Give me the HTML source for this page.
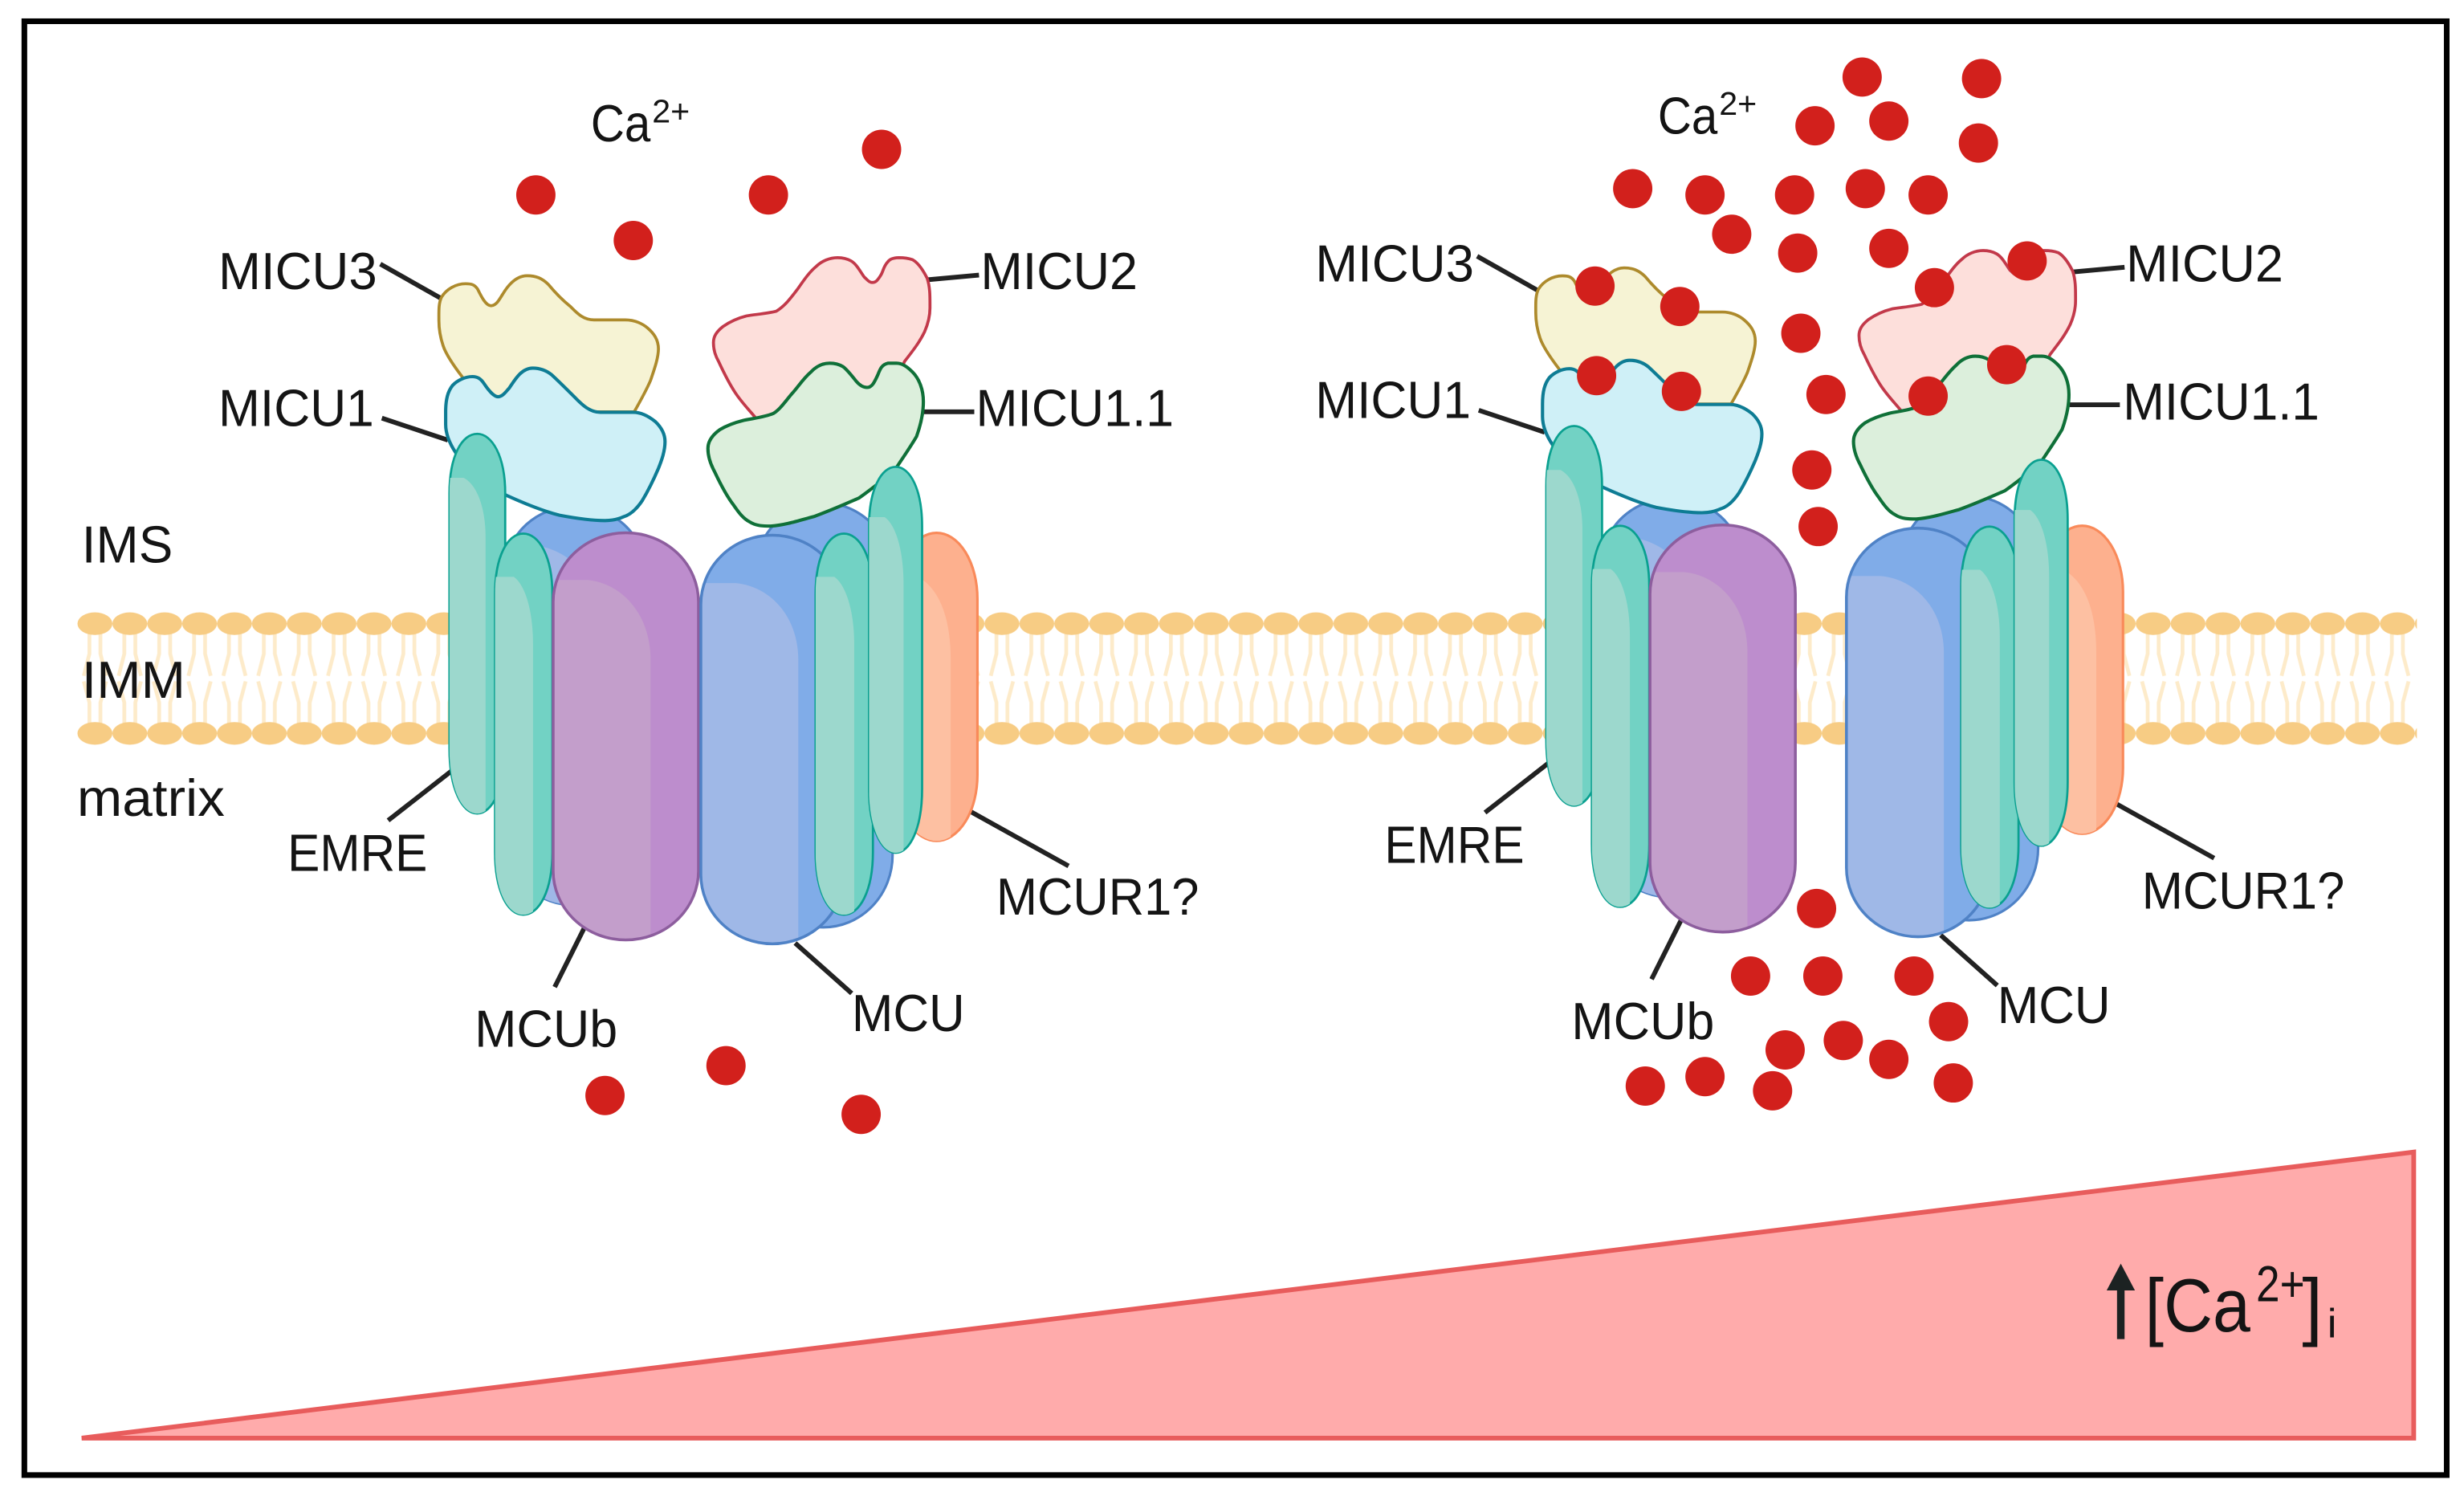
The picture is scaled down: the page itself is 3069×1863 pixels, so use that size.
<!DOCTYPE html>
<html><head><meta charset="utf-8"><style>
html,body{margin:0;padding:0;background:#fff;width:3069px;height:1863px;overflow:hidden}
svg{display:block}
text{font-family:"Liberation Sans",sans-serif;fill:#141414}
</style></head><body>
<svg xmlns="http://www.w3.org/2000/svg" width="3069" height="1863" viewBox="0 0 1568 951.8">
<defs>
<pattern id="lip" patternUnits="userSpaceOnUse" x="49.3" y="388" width="22.2" height="88">
<path d="M7.6,14 L7.6,28 L4,42 M14.6,14 L14.6,28 L18.2,42 M4,45.5 L7.6,59 L7.6,73 M18.2,45.5 L14.6,59 L14.6,73" fill="none" stroke="#fdebca" stroke-width="2.4"/>
<ellipse cx="11.1" cy="8.8" rx="11.1" ry="7.2" fill="#f7cc84"/>
<ellipse cx="11.1" cy="78.6" rx="11.1" ry="7.2" fill="#f7cc84"/>
</pattern>
<clipPath id="cE1"><path d="M286,314 C286,290 294,276 303.7,276 C313,276 321.5,290 321.5,314 L321.5,476 C321.5,502 313,517.6 303.7,517.6 C294,517.6 286,502 286,476 Z"/></clipPath>
<clipPath id="cE2"><path d="M315,378 C315,354 323,339.5 333,339.5 C343,339.5 351.5,354 351.5,378 L351.5,542 C351.5,567 343,582 333,582 C323,582 315,567 315,542Z"/></clipPath>
<clipPath id="cE3"><path d="M519,378 C519,354 527,339.5 537,339.5 C547,339.5 555.5,354 555.5,378 L555.5,542 C555.5,567 547,582 537,582 C527,582 519,567 519,542Z"/></clipPath>
<clipPath id="cE4"><path d="M553,335 C553,311 561,297 570,297 C579,297 586.8,311 586.8,335 L586.8,502 C586.8,527 579,542.6 570,542.6 C561,542.6 553,527 553,502Z"/></clipPath>
<clipPath id="cP"><rect x="352" y="339" width="92.5" height="259" rx="46" ry="44"/></clipPath>
<clipPath id="cB"><rect x="446" y="340.5" width="91" height="260" rx="45.5" ry="44"/></clipPath>
<clipPath id="cO"><rect x="570" y="339" width="52" height="196" rx="26" ry="42"/></clipPath>
<clipPath id="cBL"><rect x="322" y="322" width="88" height="254" rx="44" ry="40"/></clipPath>

<g id="halfA">
<rect x="322" y="322" width="88" height="254" rx="44" ry="40" fill="#80ace8" stroke="#4f82c6" stroke-width="1.6"/>
<path clip-path="url(#cBL)" d="M322,345 L346,348 C358,351 370,360 378,372 L385,580 L322,580Z" fill="#9fb8e7"/>
<path d="M281,189 C284,184 290,180.5 296.3,180.5 C300,180.5 302,181 304,184 C306,188 309,194.5 312.5,194.5 C316,194.5 318,190 320,187 C323,182 328,175.4 335.5,175.4 C341,175.4 345,177 349,181 C354,187 358,191 363,195 C367,199 371,203.5 378,203.5 L398,203.5 C404,203.5 409,206 412,208.6 C416,212 419,216 419,222 C419,228 416,236 414,242 C411,249 407,256 403.6,262 L310,262 L293.8,239.3 C289,233 284,226 282,220 C280,214 279.3,209 279.3,204 C279.3,198 279,193 281,189Z" fill="#f6f3d4" stroke="#ad8a2c" stroke-width="1.9"/>
<path d="M283.6,262 C283.6,254 285,249 288,245.2 C291,242 296,239.6 300.6,239.6 C304,239.6 306,241 308,244 C310,247 314,252.4 316.8,252.4 C320,252.4 322,249 324,247 C328,241 332,234.2 339,234.2 C344,234.2 348,236 351,238.4 C356,243 361,248 366,253 C370,257 375,262.3 382,262.3 L403,262.3 C408,262.3 413,265 417,268.2 C421,272 423.2,276 423.2,281 C423.2,287 421,293 419,298 C416,305 412,313 408.7,318.5 C405,324 401,327.5 397,328.7 C392,331 388,331.2 385,331.2 C375,331.2 365,329.5 356,327.8 C345,325 333,320 322,315 C310,308 298,298 290,288 C286,282 283.6,276 283.6,270 Z" fill="#cff0f7" stroke="#0e7c94" stroke-width="2.1"/>
<path d="M286,314 C286,290 294,276 303.7,276 C313,276 321.5,290 321.5,314 L321.5,476 C321.5,502 313,517.6 303.7,517.6 C294,517.6 286,502 286,476 Z" fill="#72d2c4" stroke="#0aa090" stroke-width="1.4"/>
<path clip-path="url(#cE1)" d="M284,304 L295,304 C303,308 309,322 309,342 L309,520 L284,520Z" fill="#9cd8cd"/>
<path d="M315,378 C315,354 323,339.5 333,339.5 C343,339.5 351.5,354 351.5,378 L351.5,542 C351.5,567 343,582 333,582 C323,582 315,567 315,542Z" fill="#72d2c4" stroke="#0aa090" stroke-width="1.4"/>
<path clip-path="url(#cE2)" d="M312,367 L327,367 C334,372 339.2,388 339.2,410 L339.2,585 L312,585Z" fill="#9cd8cd"/>
<rect x="352" y="339" width="92.5" height="259" rx="46" ry="44" fill="#bd8dcd"/>
<path clip-path="url(#cP)" d="M350,369 L374,369 C395,371 414,390 414,420 L414,600 L350,600Z" fill="#c39ecb"/>
<rect x="352" y="339" width="92.5" height="259" rx="46" ry="44" fill="none" stroke="#8d5e9e" stroke-width="1.8"/>
</g>

<g id="halfB">
<rect x="480" y="320" width="88" height="270" rx="44" ry="46" fill="#80ace8" stroke="#4f82c6" stroke-width="1.6"/>
<path d="M590,177 C587,171 584,167 580.7,165.2 C577,163.9 574,163.9 572,163.9 C568,164 566,165 564.6,167 C562,170 562,173 560.3,175.4 C558,179 557,179.7 555.2,179.7 C553,179.7 552,178 550,176.3 C547,172 545,168 541.6,166 C539,164.5 536,163.9 533,163.9 C528,163.9 523,166 519.4,169.5 C515,173 511,179 507.5,184 C503,190 499,195 494,198 C488,199.5 481,200 475,201 C469,202.5 464,205 460,207.8 C456,211 454,214 454,218 C454,222 455,226 457.3,230 C461,238 464,244 468,250 C472,256 476,260 481,266 L560,266 L575.6,230 C581,223 585,218 588.4,211 C591,205 591.8,200 591.8,196 C591.8,189 592,183 590,177Z" fill="#fddfdb" stroke="#c2394a" stroke-width="1.9"/>
<path d="M587.6,255.5 C587.6,248 585,241 580.7,236.7 C577,233 574,231.1 570.5,231.1 L565,231.1 C561,232 560,235 558.6,238.5 C556.5,243 555,246.5 551.8,246.5 C549,246.5 547,245 545,242.7 C542,239 539,235 536.5,233.3 C534,231.8 531,231.1 528,231.1 C523,231.1 519,233.5 516,236.7 C511,241 508,246 504,250.4 C500,255 496,261 492,263.1 C486,265.5 480,266 473.4,267.4 C467,269 462,271 458,273.4 C453,277 450.5,281 450.5,285.3 C450.5,290 452,295 454.7,300 C458,307 462,315 466.6,321 C470,326 473,330 477,332 C481,334.7 486,334.7 490.5,334.7 C500,334 509,331 517.7,328.7 C528,325 537,321 546.7,316.8 C555,311 562,305 568.8,300 C574,292 579,285 583.3,277.6 C586,270 587.6,263 587.6,255.5Z" fill="#dcefdc" stroke="#0f7038" stroke-width="2.1"/>
<rect x="570" y="339" width="52" height="196" rx="26" ry="42" fill="#fdb08e" stroke="#f98a5a" stroke-width="1.6"/>
<path clip-path="url(#cO)" d="M570,366 L582,366 C596,372 605,390 605,420 L605,540 L570,540Z" fill="#fdc0a2"/>
<rect x="446" y="340.5" width="91" height="260" rx="45.5" ry="44" fill="#80ace8"/>
<path clip-path="url(#cB)" d="M444,371 L468,371 C490,373 508,392 508,420 L508,602 L444,602Z" fill="#9fb8e7"/>
<rect x="446" y="340.5" width="91" height="260" rx="45.5" ry="44" fill="none" stroke="#4f82c6" stroke-width="1.8"/>
<path d="M519,378 C519,354 527,339.5 537,339.5 C547,339.5 555.5,354 555.5,378 L555.5,542 C555.5,567 547,582 537,582 C527,582 519,567 519,542Z" fill="#72d2c4" stroke="#0aa090" stroke-width="1.4"/>
<path clip-path="url(#cE3)" d="M516,367 L531,367 C538,372 543.6,388 543.6,410 L543.6,585 L516,585Z" fill="#9cd8cd"/>
<path d="M553,335 C553,311 561,297 570,297 C579,297 586.8,311 586.8,335 L586.8,502 C586.8,527 579,542.6 570,542.6 C561,542.6 553,527 553,502Z" fill="#72d2c4" stroke="#0aa090" stroke-width="1.4"/>
<path clip-path="url(#cE4)" d="M551,329 L563,329 C570,334 575,350 575,372 L575,545 L551,545Z" fill="#9cd8cd"/>
</g>
</defs>

<rect width="1568" height="951.8" fill="#fff"/>
<rect x="15.5" y="13.5" width="1541.5" height="925" fill="none" stroke="#000" stroke-width="3.6"/>

<!-- membrane -->
<rect x="49.3" y="388" width="1488.7" height="88" fill="url(#lip)"/>

<!-- gradient wedge -->
<polygon points="52,915 1536,733 1536,915" fill="#ffabab" stroke="#e85c5c" stroke-width="3"/>

<!-- connector lines -->
<g stroke="#222" stroke-width="3" fill="none">
<path d="M242,168 L281,190 M243,266 L285,280 M590,178 L623,175 M588,262 L620,262 M247,522 L288,490 M353,628 L372,590 M506,600 L542,632 M617,516 L680,551"/>
<path d="M940,163 L979,185 M941,261 L983,275 M1319,173 L1352,170 M1317,257.5 L1349,257.5 M945,517 L986,485 M1051,623 L1070,585 M1235,595 L1271,627 M1346,511 L1409,546"/>
</g>

<use href="#halfA"/>
<use href="#halfB"/>
<use href="#halfA" transform="translate(698,-5)"/>
<use href="#halfB" transform="translate(729,-4.5)"/>

<!-- calcium -->
<g fill="#d2201c">
<circle cx="341" cy="124" r="12.5"/><circle cx="403" cy="153" r="12.5"/><circle cx="489" cy="124" r="12.5"/><circle cx="561" cy="95" r="12.5"/>
<circle cx="385" cy="697" r="12.5"/><circle cx="462" cy="678" r="12.5"/><circle cx="548" cy="709" r="12.5"/>
<circle cx="1185" cy="49" r="12.5"/><circle cx="1261" cy="50" r="12.5"/><circle cx="1155" cy="80" r="12.5"/><circle cx="1202" cy="77" r="12.5"/><circle cx="1259" cy="91" r="12.5"/>
<circle cx="1039" cy="120" r="12.5"/><circle cx="1085" cy="124" r="12.5"/><circle cx="1142" cy="124" r="12.5"/><circle cx="1187" cy="120" r="12.5"/><circle cx="1227" cy="124" r="12.5"/>
<circle cx="1102" cy="149" r="12.5"/><circle cx="1144" cy="161" r="12.5"/><circle cx="1202" cy="158" r="12.5"/><circle cx="1290" cy="166" r="12.5"/><circle cx="1231" cy="183" r="12.5"/>
<circle cx="1015" cy="182" r="12.5"/><circle cx="1069" cy="195" r="12.5"/><circle cx="1146" cy="212" r="12.5"/><circle cx="1016" cy="239" r="12.5"/><circle cx="1070" cy="249" r="12.5"/>
<circle cx="1162" cy="251" r="12.5"/><circle cx="1277" cy="232" r="12.5"/><circle cx="1227" cy="252" r="12.5"/><circle cx="1153" cy="299" r="12.5"/><circle cx="1157" cy="335" r="12.5"/>
<circle cx="1156" cy="578" r="12.5"/><circle cx="1114" cy="621" r="12.5"/><circle cx="1160" cy="621" r="12.5"/><circle cx="1218" cy="621" r="12.5"/><circle cx="1240" cy="650" r="12.5"/>
<circle cx="1173" cy="662" r="12.5"/><circle cx="1136" cy="668" r="12.5"/><circle cx="1202" cy="674" r="12.5"/><circle cx="1047" cy="691" r="12.5"/><circle cx="1085" cy="685" r="12.5"/>
<circle cx="1128" cy="694" r="12.5"/><circle cx="1243" cy="689" r="12.5"/>
</g>

<!-- labels -->
<g font-size="33">
<text x="139" y="184" textLength="101" lengthAdjust="spacingAndGlyphs">MICU3</text>
<text x="139" y="271" textLength="99" lengthAdjust="spacingAndGlyphs">MICU1</text>
<text x="624" y="184" textLength="100" lengthAdjust="spacingAndGlyphs">MICU2</text>
<text x="621" y="271" textLength="126" lengthAdjust="spacingAndGlyphs">MICU1.1</text>
<text x="52" y="358" textLength="58" lengthAdjust="spacingAndGlyphs">IMS</text>
<text x="52" y="444" textLength="66" lengthAdjust="spacingAndGlyphs">IMM</text>
<text x="49" y="519" textLength="94" lengthAdjust="spacingAndGlyphs">matrix</text>
<text x="183" y="554" textLength="89" lengthAdjust="spacingAndGlyphs">EMRE</text>
<text x="302" y="666" textLength="91" lengthAdjust="spacingAndGlyphs">MCUb</text>
<text x="542" y="656" textLength="72" lengthAdjust="spacingAndGlyphs">MCU</text>
<text x="634" y="582" textLength="129" lengthAdjust="spacingAndGlyphs">MCUR1?</text>
<text x="837" y="179" textLength="101" lengthAdjust="spacingAndGlyphs">MICU3</text>
<text x="837" y="266" textLength="99" lengthAdjust="spacingAndGlyphs">MICU1</text>
<text x="1353" y="179" textLength="100" lengthAdjust="spacingAndGlyphs">MICU2</text>
<text x="1351" y="267" textLength="125" lengthAdjust="spacingAndGlyphs">MICU1.1</text>
<text x="881" y="549" textLength="89" lengthAdjust="spacingAndGlyphs">EMRE</text>
<text x="1000" y="661" textLength="91" lengthAdjust="spacingAndGlyphs">MCUb</text>
<text x="1271" y="651" textLength="72" lengthAdjust="spacingAndGlyphs">MCU</text>
<text x="1363" y="578" textLength="129" lengthAdjust="spacingAndGlyphs">MCUR1?</text>
</g>
<text x="376" y="90" font-size="33" textLength="38" lengthAdjust="spacingAndGlyphs">Ca</text>
<text x="415" y="78" font-size="21" textLength="24" lengthAdjust="spacingAndGlyphs">2+</text>
<text x="1055" y="85" font-size="33" textLength="38" lengthAdjust="spacingAndGlyphs">Ca</text>
<text x="1094" y="73" font-size="21" textLength="24" lengthAdjust="spacingAndGlyphs">2+</text>

<!-- concentration label -->
<path d="M1349.6,804 L1358.6,821 L1352,821 L1352,852 L1347.2,852 L1347.2,821 L1340.6,821 Z" fill="#1c2222"/>
<text x="1365" y="847" font-size="48" textLength="67" lengthAdjust="spacingAndGlyphs">[Ca</text>
<text x="1435.7" y="828" font-size="32" textLength="31" lengthAdjust="spacingAndGlyphs">2+</text>
<text x="1465" y="847" font-size="48" textLength="13" lengthAdjust="spacingAndGlyphs">]</text>
<text x="1481" y="851" font-size="26" textLength="6" lengthAdjust="spacingAndGlyphs">i</text>
</svg>
</body></html>
